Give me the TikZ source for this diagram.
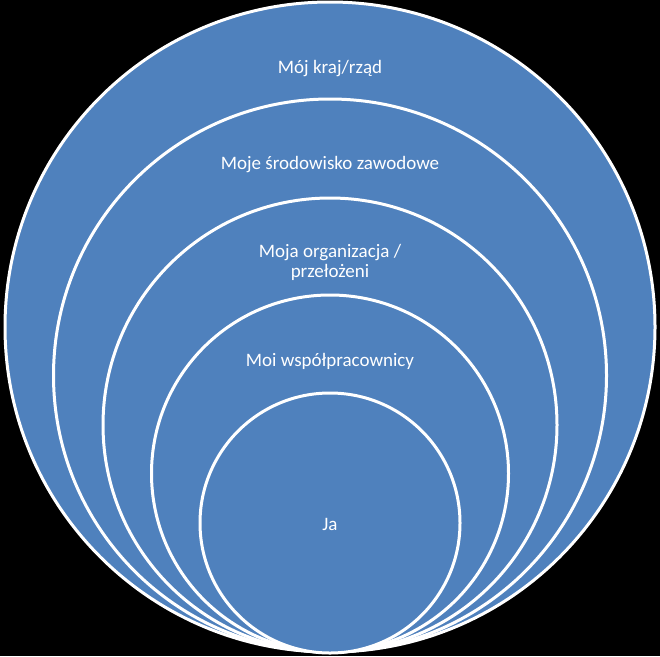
\documentclass[tikz,border=0pt]{standalone}
\usepackage{fontspec}
\setmainfont{Carlito}
\definecolor{ringblue}{HTML}{4F81BD}
\begin{document}
\begin{tikzpicture}[x=1pt,y=-1pt,
  ring/.style={circle, draw=white, fill=ringblue, line width=3pt, inner sep=0pt, minimum size=#1},
  lbl/.style={text=white, font=\fontsize{19}{20}\selectfont, align=center, inner sep=0pt}]
\fill[black] (0,0) rectangle (660,656);
\useasboundingbox (0,0) rectangle (660,656);
\node[ring=650pt] (c1) at (330,327) {};
\node[ring=553pt] (c2) at (330,375.5) {};
\node[ring=454pt] (c3) at (330,425) {};
\node[ring=357pt] (c4) at (330,473.5) {};
\node[ring=260pt] (c5) at (330,523) {};
\node[lbl] (t1) at (330,69) {Mój kraj/rząd};
\node[lbl] (t2) at (330,165) {Moje środowisko zawodowe};
\node[lbl] (t3) at (330,262) {Moja organizacja /\\przełożeni};
\node[lbl] (t4) at (330,361) {Moi współpracownicy};
\node[lbl] (t5) at (330,524) {Ja};
\end{tikzpicture}
\end{document}
